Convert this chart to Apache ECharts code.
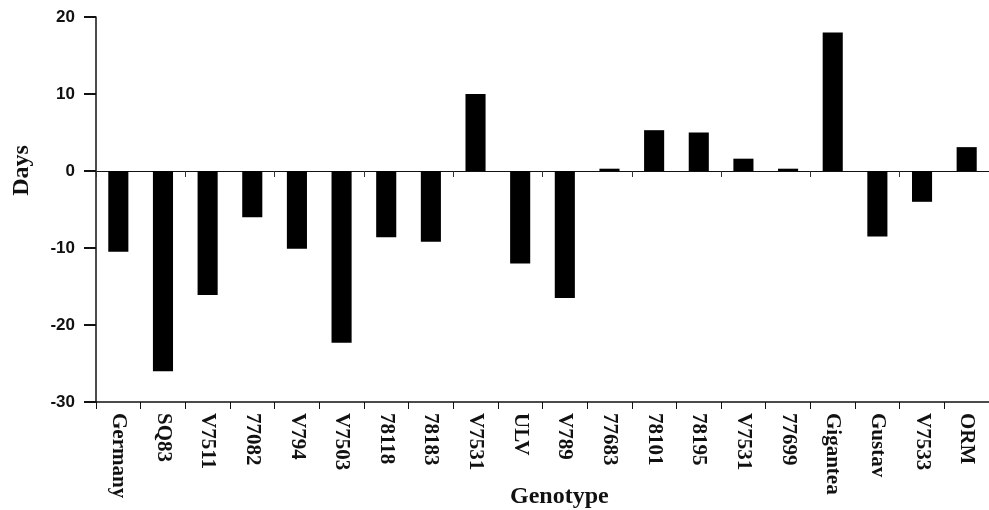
<!DOCTYPE html>
<html><head><meta charset="utf-8">
<script src="https://cdn.jsdelivr.net/npm/echarts@6/dist/echarts.min.js"></script>
<style>html,body{margin:0;padding:0;background:#fff}#c{width:989px;height:510px}</style>
</head><body><div id="c"></div>
<script>
const categories = ["Germany","SQ83","V7511","77082","V794","V7503","78118","78183","V7531","ULV","V789","77683","78101","78195","V7531","77699","Gigantea","Gustav","V7533","ORM"];
const days = [-10.5,-26,-16.1,-6,-10.1,-22.3,-8.6,-9.2,10,-12,-16.5,0.3,5.3,5,1.6,0.3,18,-8.5,-4,3.1];
const yTicks = [-30,-20,-10,0,10,20];

const chart = echarts.init(document.getElementById('c'));
chart.setOption({
  animation:false,
  backgroundColor:'#fff',
  title:{text:'Genotype',left:510,top:485,padding:0,textStyle:{fontFamily:'Liberation Serif',fontWeight:'bold',fontSize:24,color:'#111'}},
  grid:{left:96,top:17,right:0,bottom:108},
  xAxis:[{
    type:'category',data:categories,position:'bottom',
    axisLine:{onZero:false,lineStyle:{color:'#111',width:1.5}},
    axisTick:{show:true,length:7,lineStyle:{color:'#111'}},
    axisLabel:{rotate:-90,margin:11,padding:[14,0,0,0],fontFamily:'Liberation Serif',fontWeight:'bold',fontSize:21,color:'#111',interval:0}
  },{
    type:'category',data:categories,position:'bottom',
    axisLine:{onZero:true,lineStyle:{color:'#111',width:1.2}},
    axisTick:{show:true,length:6,lineStyle:{color:'#333'}},
    axisLabel:{show:false}
  }],
  yAxis:{
    type:'value',min:yTicks[0],max:yTicks[yTicks.length-1],interval:10,
    name:'Days',nameLocation:'middle',nameGap:62,nameRotate:90,
    nameTextStyle:{fontFamily:'Liberation Serif',fontWeight:'bold',fontSize:24,color:'#111',padding:[0,0,0,78]},
    axisLine:{show:true,lineStyle:{color:'#111',width:1.5}},
    axisTick:{show:true,length:12,lineStyle:{color:'#111',width:2}},
    axisLabel:{margin:21,fontFamily:'Liberation Sans',fontWeight:'bold',fontSize:17,color:'#111'},
    splitLine:{show:false}
  },
  series:[{type:'bar',data:days,barWidth:'45%',itemStyle:{color:'#000'}}]
});
</script></body></html>
